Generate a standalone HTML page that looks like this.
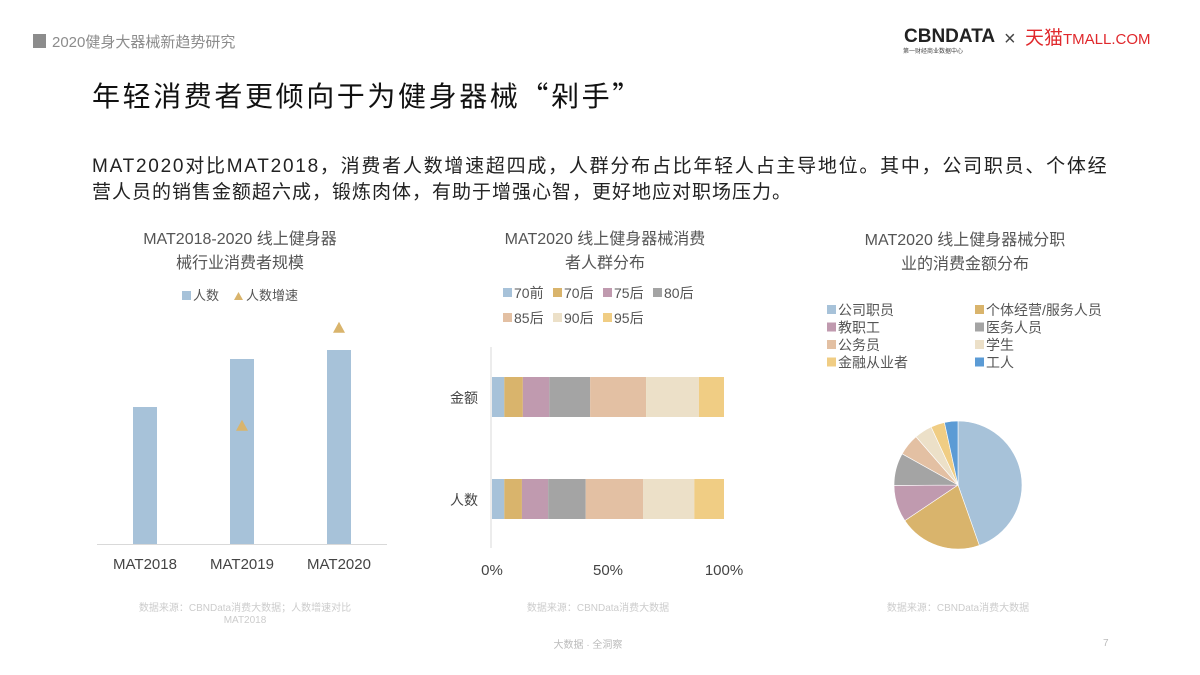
<!DOCTYPE html>
<html><head><meta charset="utf-8">
<style>
body{margin:0;background:#fff;}
#root{position:relative;width:1200px;height:675px;overflow:hidden;font-family:"Liberation Sans","Noto Sans CJK SC",sans-serif;}
svg text{font-family:"Liberation Sans","Noto Sans CJK SC",sans-serif;}
</style></head>
<body>
<div id="root">
<svg id="svg" width="1200" height="675" viewBox="0 0 1200 675">
  <rect x="33" y="34" width="13" height="14" fill="#8c8c8c"/>
  <text x="52" y="47" font-size="15" fill="#8c8c8c">2020健身大器械新趋势研究</text>
  <g>
    <text x="904" y="42" font-size="19" font-weight="bold" fill="#222">CBNDATA</text>
    <text x="903" y="53" font-size="6" fill="#444">第一财经商业数据中心</text>
    <text x="1004" y="45" font-size="20" fill="#444">×</text>
    <text x="1025" y="44" font-size="19" fill="#e0282c">天猫<tspan font-size="15">TMALL.COM</tspan></text>
  </g>
  <text x="92" y="106" font-size="28" fill="#111" letter-spacing="2.6">年轻消费者更倾向于为健身器械<tspan font-family="Noto Sans CJK SC">“</tspan>剁手<tspan font-family="Noto Sans CJK SC">”</tspan></text>
  <text x="92" y="172" font-size="19" fill="#222" letter-spacing="1.75">MAT2020对比MAT2018，消费者人数增速超四成，人群分布占比年轻人占主导地位。其中，公司职员、个体经</text>
  <text x="92" y="198" font-size="19" fill="#222" letter-spacing="1">营人员的销售金额超六成，锻炼肉体，有助于增强心智，更好地应对职场压力。</text>

  <text x="240" y="244" font-size="16" fill="#555" text-anchor="middle">MAT2018-2020 线上健身器</text>
  <text x="240" y="268" font-size="16" fill="#555" text-anchor="middle">械行业消费者规模</text>
  <g id="c1"></g>
  <text x="245" y="611" font-size="10" fill="#ccc" text-anchor="middle">数据来源：CBNData消费大数据；人数增速对比</text>
  <text x="245" y="623" font-size="10" fill="#ccc" text-anchor="middle">MAT2018</text>

  <text x="605" y="244" font-size="16" fill="#555" text-anchor="middle">MAT2020 线上健身器械消费</text>
  <text x="605" y="268" font-size="16" fill="#555" text-anchor="middle">者人群分布</text>
  <g id="c2"></g>
  <text x="598" y="611" font-size="10" fill="#ccc" text-anchor="middle">数据来源：CBNData消费大数据</text>

  <text x="965" y="245" font-size="16" fill="#555" text-anchor="middle">MAT2020 线上健身器械分职</text>
  <text x="965" y="269" font-size="16" fill="#555" text-anchor="middle">业的消费金额分布</text>
  <g id="c3"></g>
  <text x="958" y="611" font-size="10" fill="#ccc" text-anchor="middle">数据来源：CBNData消费大数据</text>

  <text x="588" y="648" font-size="10" fill="#bbb" text-anchor="middle">大数据 · 全洞察</text>
  <text x="1103" y="646" font-size="10" fill="#bbb">7</text>
</svg>
</div>
<script>
const NS="http://www.w3.org/2000/svg";
function mk(parent,tag,attrs,txt){const e=document.createElementNS(NS,tag);for(const k in attrs)e.setAttribute(k,attrs[k]);if(txt!==undefined)e.textContent=txt;parent.appendChild(e);return e;}

// Chart 1 data
const c1Categories=["MAT2018","MAT2019","MAT2020"];
const c1Counts=[137,185,194];
const c1Growth=[null,94,218];
// Chart 2 data
const c2Groups=["70前","70后","75后","80后","85后","90后","95后"];
const c2Rows=["金额","人数"];
const c2Amount=[5.3,8.0,11.4,17.6,24.1,22.8,10.8];
const c2People=[5.3,7.6,11.3,16.2,24.7,22.1,12.8];
const c2Ticks=["0%","50%","100%"];
// Chart 3 data
const c3Labels=["公司职员","个体经营/服务人员","教职工","医务人员","公务员","学生","金融从业者","工人"];
const c3Values=[44.6,21.0,9.3,8.2,5.5,4.5,3.5,3.4];

const colors7=["#a7c2d9","#d9b46c","#c09aaf","#a4a4a4","#e3c0a3","#ece0c8","#f0cd84"];
const colors8=["#a7c2d9","#d9b46c","#c09aaf","#a4a4a4","#e3c0a3","#ece0c8","#f0cd84","#5b9bd5"];

// ---- Chart 1
(function(){
 const g=document.getElementById('c1');
 const base=544, scale=1.0, x0=145, step=97, bw=24;
 const y=v=>base-v*scale;
 const gy=v=>500-v*0.79;
 let e=mk(g,'rect',{x:182,y:291,width:9,height:9,fill:colors7[0]});
 
 e=mk(g,'text',{x:193,y:300,'font-size':13,fill:'#555'},'人数');
 
 e=mk(g,'polygon',{points:'234,300 243,300 238.5,292',fill:colors7[1]});
 
 e=mk(g,'text',{x:246,y:300,'font-size':13,fill:'#555'},'人数增速');
 
 c1Categories.forEach((c,i)=>{
  const cx=x0+i*step;
  let b=mk(g,'rect',{x:cx-bw/2,y:y(c1Counts[i]),width:bw,height:c1Counts[i]*scale,fill:colors7[0]});
  
  
  let t=mk(g,'text',{x:cx,y:569,'font-size':15,fill:'#444','text-anchor':'middle'},c);
  
  
  if(c1Growth[i]!==null){
   const ty=gy(c1Growth[i]);
   let p=mk(g,'polygon',{points:`${cx-6},${ty+5} ${cx+6},${ty+5} ${cx},${ty-6}`,fill:colors7[1]});
   
   
  }
 });
 e=mk(g,'line',{x1:97,x2:387,y1:544.5,y2:544.5,stroke:'#d9d9d9','stroke-width':1});
 
})();

// ---- Chart 2
(function(){
 const g=document.getElementById('c2');
 const xL=492, xR=724, x=v=>xL+(xR-xL)*v/100;
 const legPos=[[503,297],[553,297],[603,297],[653,297],[503,322],[553,322],[603,322]];
 c2Groups.forEach((n,i)=>{
  let s=mk(g,'rect',{x:legPos[i][0],y:legPos[i][1]-9,width:9,height:9,fill:colors7[i]});
  
  
  let t=mk(g,'text',{x:legPos[i][0]+11,y:legPos[i][1]+1,'font-size':14,fill:'#555'},n);
  
  
 });
 let a=mk(g,'line',{x1:491,x2:491,y1:347,y2:548,stroke:'#d9d9d9'});
 
 const rows=[c2Amount,c2People], ys=[377,479];
 rows.forEach((vals,r)=>{
  let l=mk(g,'text',{x:478,y:ys[r]+26,'font-size':14,fill:'#444','text-anchor':'end'},c2Rows[r]);
  
  
  let cum=0;
  vals.forEach((v,i)=>{
   let b=mk(g,'rect',{x:x(cum),y:ys[r],width:x(cum+v)-x(cum),height:40,fill:colors7[i]});
   
   
   cum+=v;
  });
 });
 [0,50,100].forEach((v,i)=>{
  let t=mk(g,'text',{x:x(v),y:575,'font-size':15,fill:'#444','text-anchor':'middle'},c2Ticks[i]);
  
  
 });
})();

// ---- Chart 3
(function(){
 const g=document.getElementById('c3');
 c3Labels.forEach((n,i)=>{
  const lx=i%2?975:827, ly=314+Math.floor(i/2)*17.5;
  let s=mk(g,'rect',{x:lx,y:ly-9,width:9,height:9,fill:colors8[i]});
  
  
  let t=mk(g,'text',{x:lx+11,y:ly+1,'font-size':14,fill:'#555'},n);
  
  
 });
 const cx=958, cy=485, R=64;
 const tot=c3Values.reduce((a,b)=>a+b,0);
 let ang=0;
 c3Values.forEach((v,i)=>{
  const a0=ang/tot*2*Math.PI, a1=(ang+v)/tot*2*Math.PI;
  const p=(a)=>[cx+R*Math.sin(a),cy-R*Math.cos(a)];
  const [x0,y0]=p(a0),[x1,y1]=p(a1);
  const large=(a1-a0)>Math.PI?1:0;
  let s=mk(g,'path',{d:`M${cx},${cy} L${x0},${y0} A${R},${R} 0 ${large} 1 ${x1},${y1} Z`,fill:colors8[i],stroke:'#fff','stroke-width':0.6});
  
  
  ang+=v;
 });
})();
</script>
</body></html>
